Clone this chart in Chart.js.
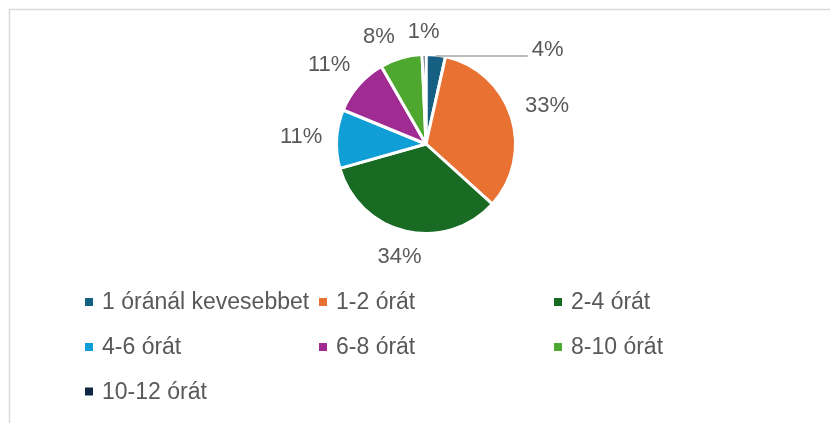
<!DOCTYPE html>
<html>
<head>
<meta charset="utf-8">
<script src="https://cdn.jsdelivr.net/npm/chart.js@4"></script>
<style>
  html, body { margin: 0; padding: 0; background: #fff; overflow: hidden; }
  #wrap { width: 830px; height: 423px; position: relative; }
</style>
</head>
<body>
<div id="wrap"><canvas id="pie"></canvas></div>
<script>
// Heti órák megoszlása (százalék)
const categories = ["1 óránál kevesebbet", "1-2 órát", "2-4 órát", "4-6 órát", "6-8 órát", "8-10 órát", "10-12 órát"];
const shares = [3.5, 33.2, 33.9, 10.6, 10.5, 7.6, 0.7];
const colors = ["#156082", "#E97132", "#196B24", "#0F9ED5", "#A02B93", "#4EA72E", "#0E2841"];

const textColor = "#595959";
const fontFamily = '"Liberation Sans", Arial, sans-serif';

// kis szelet felirata vezetővonallal
const leaderIndex = 0;

const framePlugin = {
    id: "frame",
    beforeDraw(chart) {
        const ctx = chart.ctx;
        ctx.save();
        ctx.strokeStyle = "#D9D9D9";
        ctx.lineWidth = 1.5;
        ctx.strokeRect(9.5, 9.5, 1000, 1000);
        ctx.restore();
    },
};

function labelBox(p, angle, w) {
    const ux = Math.cos(angle);
    const uy = Math.sin(angle);
    const d = p.outerRadius + 14 + (w / 2) * Math.abs(ux) + 8 * Math.abs(uy);
    const cx = p.x + d * ux;
    const cy = p.y + d * uy;
    return { cx, cy, x1: cx - w / 2, x2: cx + w / 2, y1: cy - 8, y2: cy + 8 };
}

function overlaps(a, b, m) {
    return a.x1 < b.x2 + m && b.x1 < a.x2 + m && a.y1 < b.y2 + m && b.y1 < a.y2 + m;
}

const pctLabels = {
    id: "pctLabels",
    afterDatasetsDraw(chart) {
        const ctx = chart.ctx;
        const meta = chart.getDatasetMeta(0);
        const total = shares.reduce((a, b) => a + b, 0);
        ctx.save();
        ctx.font = "22px " + fontFamily;
        ctx.fillStyle = textColor;
        ctx.textBaseline = "middle";

        const placed = [];
        for (let i = meta.data.length - 1; i >= 0; i--) {
            const arc = meta.data[i];
            const p = arc.getProps(["x", "y", "startAngle", "endAngle", "outerRadius"], true);
            const mid = (p.startAngle + p.endAngle) / 2;
            const text = Math.round(shares[i] / total * 100) + "%";

            if (i === leaderIndex) {
                const sx = p.x + (p.outerRadius - 1) * Math.cos(mid);
                const sy = p.y + (p.outerRadius - 1) * Math.sin(mid);
                ctx.strokeStyle = "#A6A6A6";
                ctx.lineWidth = 1.5;
                ctx.beginPath();
                ctx.moveTo(sx, sy);
                ctx.lineTo(sx + 92, sy);
                ctx.stroke();
                ctx.textAlign = "left";
                ctx.fillText(text, sx + 96, sy - 6);
                continue;
            }

            const w = ctx.measureText(text).width;
            let angle = mid;
            let box = labelBox(p, angle, w);
            let steps = 0;
            // ütközés esetén az óramutatóval ellentétesen toljuk
            while (placed.some(b => overlaps(box, b, 12)) && steps < 60) {
                angle -= Math.PI / 360;
                box = labelBox(p, angle, w);
                steps++;
            }
            placed.push(box);
            ctx.textAlign = "center";
            ctx.fillText(text, box.cx, box.cy);
        }
        ctx.restore();
    },
};

const gridLegend = {
    id: "gridLegend",
    afterDraw(chart) {
        const ctx = chart.ctx;
        const colX = [85, 319, 554];
        const rowY = [302, 347, 391.5];
        ctx.save();
        ctx.font = "23px " + fontFamily;
        ctx.textBaseline = "middle";
        ctx.textAlign = "left";
        categories.forEach((name, i) => {
            const x = colX[i % 3];
            const y = rowY[Math.floor(i / 3)];
            ctx.fillStyle = colors[i];
            ctx.fillRect(x, y - 4, 8, 8);
            ctx.fillStyle = textColor;
            ctx.fillText(name, x + 17, y + 1);
        });
        ctx.restore();
    },
};

new Chart(document.getElementById("pie"), {
    type: "pie",
    data: {
        labels: categories,
        datasets: [{
            data: shares,
            backgroundColor: colors,
            borderColor: "#FFFFFF",
            borderWidth: 3,
            hoverOffset: 0,
        }],
    },
    options: {
        responsive: true,
        maintainAspectRatio: false,
        animation: false,
        events: [],
        layout: {
            padding: { left: 335, right: 313, top: 53, bottom: 188 },
        },
        plugins: {
            legend: { display: false },
            tooltip: { enabled: false },
        },
    },
    plugins: [framePlugin, pctLabels, gridLegend],
});
</script>
</body>
</html>
